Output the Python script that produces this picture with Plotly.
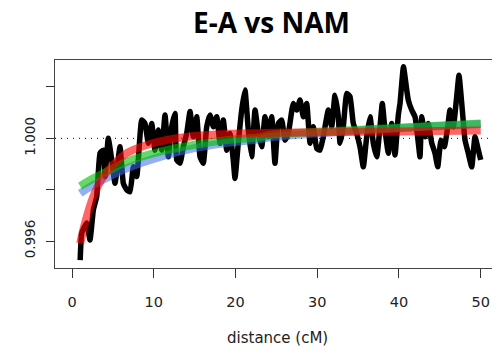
import plotly.graph_objects as go

# Observed ratio (black line)
dist = [1.0, 1.2, 1.8, 2.2, 2.61, 3.02, 3.43, 3.83, 4.04, 4.44, 4.86, 5.26, 5.87, 6.28, 6.69, 7.10,
        7.50, 7.92, 8.53, 8.93, 9.33, 9.75, 10.15, 10.56, 10.97, 11.38, 11.78, 12.20, 12.60, 12.81,
        13.21, 13.62, 14.03, 14.44, 14.84, 15.26, 15.66, 16.06, 16.48, 16.88, 17.29, 17.70, 18.11,
        18.51, 18.93, 19.33, 19.73, 19.94, 20.34, 20.76, 21.16, 21.57, 21.98, 22.39, 22.79, 23.21,
        23.61, 24.02, 24.43, 24.83, 25.24, 25.65, 26.06, 26.46, 27.07, 27.49, 27.89, 28.30, 28.71,
        29.12, 29.52, 29.94, 30.34, 30.74, 31.36, 31.77, 32.17, 32.58, 32.79, 33.19, 33.61, 34.01,
        34.41, 34.83, 35.23, 35.64, 36.05, 36.46, 36.86, 37.28, 37.68, 37.96, 38.29, 38.70, 39.11,
        39.52, 39.92, 40.13, 40.55, 40.95, 41.14, 41.56, 41.96, 42.37, 42.57, 42.78, 43.19, 43.59,
        44.01, 44.41, 44.74, 45.14, 45.55, 45.96, 46.24, 46.65, 47.06, 47.34, 47.68, 48.08, 48.48,
        48.90, 49.30, 49.71, 50.0]
ratio = [0.99526, 0.99632, 0.99670, 0.99604, 0.99721, 0.99773, 0.99942, 0.99954, 0.99851, 1.00000,
         0.99916, 0.99825, 0.99967, 0.99825, 0.99799, 0.99792, 0.99889, 0.99851, 1.00071, 1.00058,
         0.99981, 1.00058, 0.99954, 1.00032, 0.99954, 1.00091, 0.99928, 1.00045, 1.00097, 0.99916,
         0.99903, 0.99967, 1.00019, 1.00104, 1.00006, 1.00084, 0.99928, 0.99903, 1.00045, 1.00091,
         1.00045, 1.00084, 0.99981, 1.00071, 0.99954, 1.00019, 0.99916, 0.99844, 0.99981, 1.00110,
         1.00188, 1.00032, 0.99928, 1.00110, 1.00019, 0.99967, 1.00084, 1.00006, 1.00084, 0.99903,
         1.00058, 1.00071, 0.99993, 1.00019, 1.00136, 1.00110, 1.00149, 1.00084, 1.00136, 0.99981,
         1.00045, 0.99961, 0.99954, 1.00006, 1.00110, 1.00045, 1.00168, 1.00084, 0.99981, 1.00045,
         1.00175, 1.00162, 1.00058, 1.00019, 0.99967, 0.99889, 1.00006, 1.00084, 0.99981, 0.99928,
         1.00045, 1.00136, 1.00032, 0.99942, 1.00058, 0.99935, 1.00091, 1.00136, 1.00279, 1.00188,
         1.00149, 1.00110, 1.00084, 0.99981, 0.99928, 1.00084, 1.00006, 1.00058, 0.99981, 0.99942,
         0.99889, 0.99993, 0.99967, 1.00045, 1.00110, 1.00045, 1.00162, 1.00246, 1.00136, 0.99993,
         0.99942, 0.99889, 1.00006, 0.99954, 0.99916]

# Fitted curves
red_x = [1.0, 1.59, 2.61, 3.83, 5.05, 6.69, 9.14, 12.81, 16.88, 20.96, 25.04, 37.0, 50.0]
red_y = [0.99591, 0.99669, 0.99773, 0.99851, 0.99896, 0.99942, 0.99974, 1.00000, 1.00013, 1.00019,
         1.00022, 1.00026, 1.00030]
green_x = [1.0, 2.61, 4.65, 6.69, 10.77, 14.84, 18.93, 23.0, 24.2, 36.46, 50.0]
green_y = [0.99814, 0.99844, 0.99877, 0.99909, 0.99948, 0.99974, 0.99993, 1.00004, 1.00013, 1.00035,
           1.00058]
blue_x = [1.0, 2.61, 6.69, 10.77, 14.84, 18.93, 23.0, 24.2, 36.46, 50.0]
blue_y = [0.99786, 0.99818, 0.99883, 0.99928, 0.99961, 0.99983, 0.99996, 1.00004, 1.00033, 1.00056]

x_ticks = [0, 10, 20, 30, 40, 50]
y_ticks = [0.996, 0.998, 1.000, 1.002]
y_ticktext = ["0.996", "", "1.000", ""]

fig = go.Figure()
fig.add_trace(go.Scatter(x=dist, y=ratio, mode="lines",
                         line=dict(color="black", width=5.5, shape="spline", smoothing=0.4),
                         showlegend=False))
fig.add_trace(go.Scatter(x=blue_x, y=blue_y, mode="lines",
                         line=dict(color="rgba(60,110,235,0.55)", width=8, shape="spline"),
                         showlegend=False))
fig.add_trace(go.Scatter(x=green_x, y=green_y, mode="lines",
                         line=dict(color="rgba(0,190,0,0.6)", width=8, shape="spline"),
                         showlegend=False))
fig.add_trace(go.Scatter(x=red_x, y=red_y, mode="lines",
                         line=dict(color="rgba(255,0,0,0.6)", width=8, shape="spline"),
                         showlegend=False))

fig.add_shape(type="line", xref="paper", yref="y", x0=0, x1=1, y0=1.0, y1=1.0, layer="below",
              line=dict(color="black", width=1, dash="1px,5px"))

fig.update_layout(
    width=492, height=353,
    margin=dict(l=55, r=0, t=60, b=85),
    plot_bgcolor="white", paper_bgcolor="white",
    font=dict(family="DejaVu Sans", color="#222"),
    xaxis=dict(range=[-2.08, 51.38], tickvals=x_ticks, ticks="outside", ticklen=9,
               tickcolor="#333", showline=True, linecolor="#444", linewidth=1, mirror=True,
               showgrid=False, zeroline=False, tickfont=dict(size=14.5, family="DejaVu Sans"),
               ticklabelstandoff=12),
    yaxis=dict(range=[0.99495, 1.00305], tickvals=y_ticks, ticktext=y_ticktext,
               ticks="outside", ticklen=8, tickcolor="#333", tickangle=-90,
               showline=True, linecolor="#444", linewidth=1, mirror=False,
               showgrid=False, zeroline=False, tickfont=dict(size=13.5, family="DejaVu Sans"),
               ticklabelstandoff=6),
    annotations=[
        dict(text="<b>E-A vs NAM</b>", xref="paper", yref="paper", x=(271 - 55) / 437,
             y=1 + (60 - 22) / 208, xanchor="center", yanchor="middle", showarrow=False,
             font=dict(family="Open Sans", size=28, color="black")),
        dict(text="distance (cM)", xref="paper", yref="paper", x=(277 - 55) / 437,
             y=-(338 - 268) / 208, xanchor="center", yanchor="middle", showarrow=False,
             font=dict(family="DejaVu Sans", size=15, color="#222")),
    ],
)

fig.write_html("out.html")
